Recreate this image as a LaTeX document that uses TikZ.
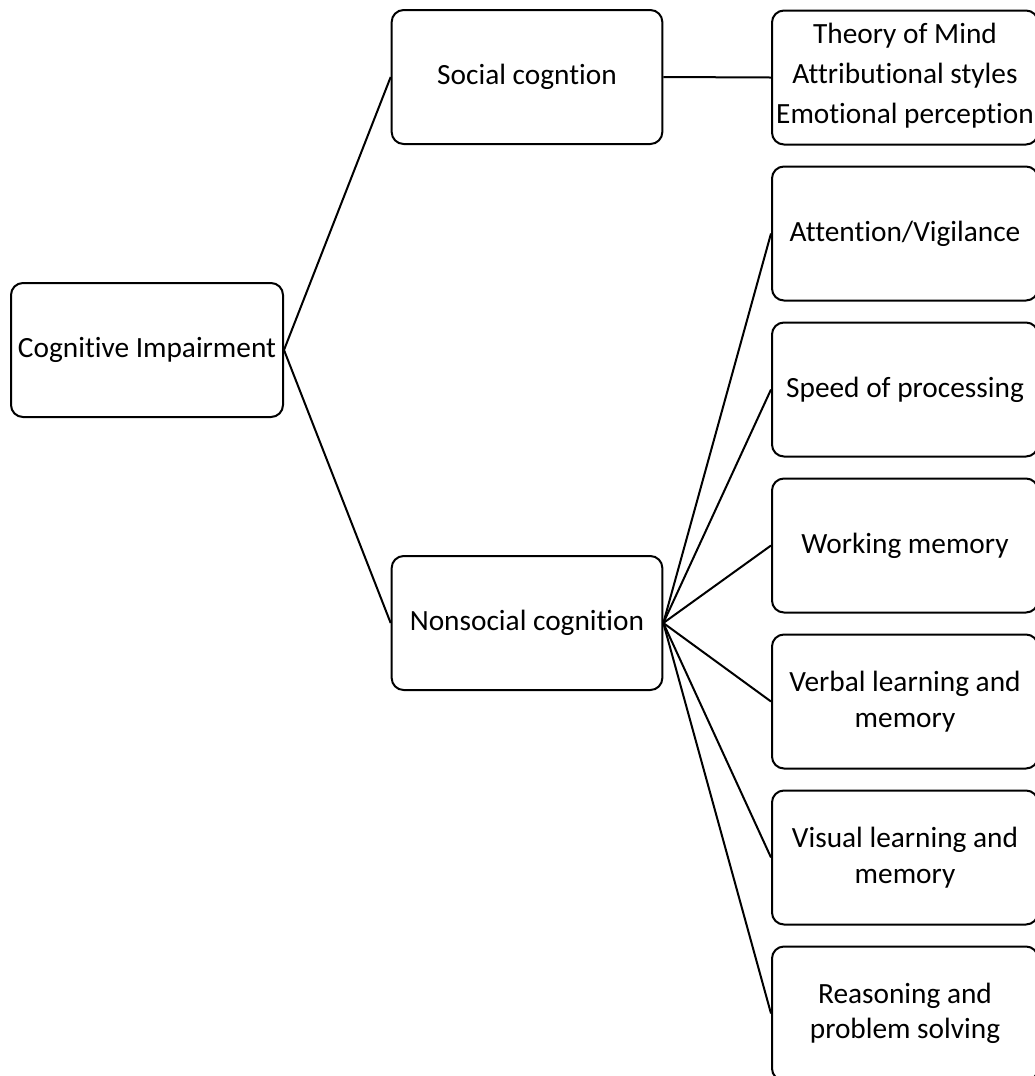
\documentclass[tikz,border=0pt]{standalone}
\usepackage{fontspec}
\setmainfont{Carlito}[RawFeature={-liga;-clig;-dlig;-calt;-rlig}]
\begin{document}
\begin{tikzpicture}[x=0.75pt,y=-0.75pt,
  txt/.style={align=center, inner sep=0pt, font=\fontsize{22}{26.6}\selectfont},
  box/.style={txt, draw, line width=1.5pt, rounded corners=9pt},
  midbox/.style={box, minimum width=203pt, minimum height=100.5pt},
  rbox/.style={box, minimum width=199.5pt, minimum height=100.5pt},
  link/.style={line width=1.5pt}]
\useasboundingbox (0,0) rectangle (1035,1076);
\node[box, minimum width=204pt, minimum height=100.5pt] (cog) at (147,350) {Cognitive Impairment};
\node[midbox] (soc) at (527,77) {Social cogntion};
\node[midbox] (non) at (527,623) {Nonsocial cognition};
\node[rbox] (tom) at (905,77.5) {};
\node[txt] (tomtext) at ([yshift=1.5pt]tom.center) {Theory of Mind\\[3.4pt]Attributional styles\\[3.4pt]Emotional perception};
\node[rbox] (att) at (905,233.5) {Attention/Vigilance};
\node[rbox] (spd) at (905,389.5) {Speed of processing};
\node[rbox] (wm) at (905,545.5) {Working memory};
\node[rbox] (vb) at (905,701.5) {Verbal learning and\\memory};
\node[rbox] (vis) at (905,857.5) {Visual learning and\\memory};
\node[rbox] (rs) at (905,1013.5) {Reasoning and\\problem solving};
\draw[link] (cog.east) -- (soc.west);
\draw[link] (cog.east) -- (non.west);
\draw[link] (soc.east) -- (tom.west);
\foreach \t in {att,spd,wm,vb,vis,rs}
  \draw[link] (non.east) -- (\t.west);
\end{tikzpicture}
\end{document}
